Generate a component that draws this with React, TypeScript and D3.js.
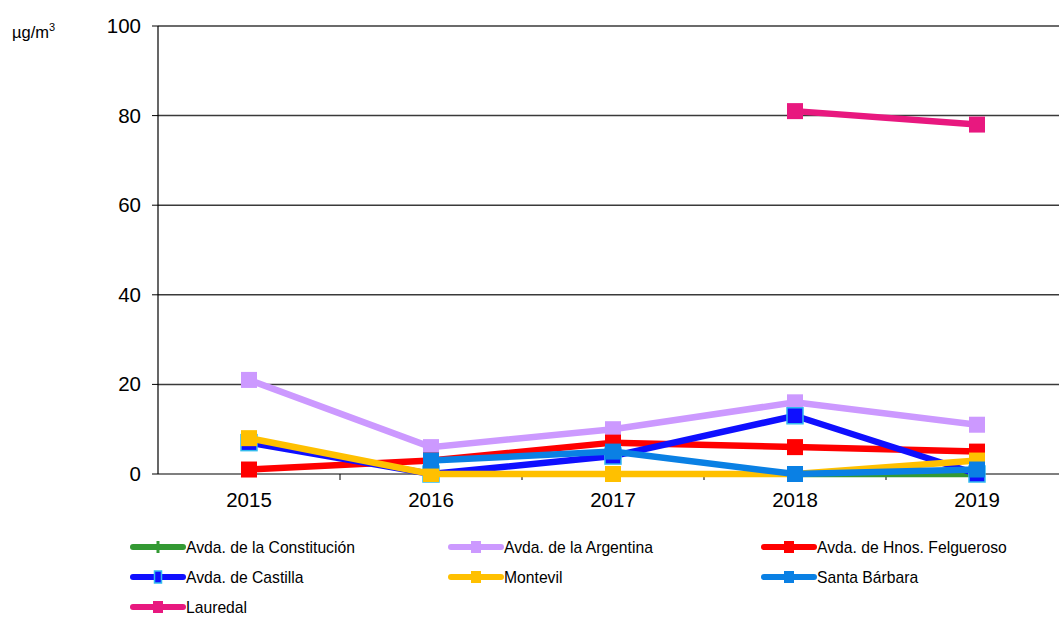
import React, { useRef, useEffect } from "react";
import * as d3 from "d3";

// years on the x axis
const years = ["2015", "2016", "2017", "2018", "2019"];
const yTicks = [0, 20, 40, 60, 80, 100];

// yearly values per station (null = no data)
const constitucion = [null, null, null, 0, 0];
const argentina = [21, 6, 10, 16, 11];
const felgueroso = [1, 3, 7, 6, 5];
const castilla = [7, 0, 4, 13, 0];
const montevil = [8, 0, 0, 0, 3];
const santaBarbara = [null, 3, 5, 0, 1];
const lauredal = [null, null, null, 81, 78];

const seriesNames = [
  "Avda. de la Constitución",
  "Avda. de la Argentina",
  "Avda. de Hnos. Felgueroso",
  "Avda. de Castilla",
  "Montevil",
  "Santa Bárbara",
  "Lauredal",
];
const seriesValues = [constitucion, argentina, felgueroso, castilla, montevil, santaBarbara, lauredal];
const seriesColors = ["#339933", "#cc99ff", "#ff0000", "#0f0fff", "#ffc000", "#0a80e4", "#e8187f"];

const App = () => {
  const svgRef = useRef(null);

  useEffect(() => {
    const width = 1059;
    const height = 617;
    const left = 158;
    const font = "'Liberation Sans', Arial, sans-serif";

    const svg = d3.select(svgRef.current).attr("width", width).attr("height", height);
    svg.selectAll("*").remove();

    const x = d3.scaleBand().domain(years).range([left, left + 182 * years.length]);
    const cx = (d) => x(d) + x.bandwidth() / 2;
    const y = d3.scaleLinear().domain([0, 100]).range([474, 26]);

    // grid lines
    svg
      .selectAll("line.grid")
      .data(yTicks.filter((t) => t > 0))
      .join("line")
      .attr("x1", left)
      .attr("x2", width)
      .attr("y1", (d) => y(d))
      .attr("y2", (d) => y(d))
      .attr("stroke", "#3a3a3a")
      .attr("stroke-width", 1.5);

    // y axis
    svg.append("line").attr("x1", left).attr("x2", left).attr("y1", y(100)).attr("y2", y(0)).attr("stroke", "#000").attr("stroke-width", 1.2);
    svg
      .selectAll("line.ytick")
      .data(yTicks)
      .join("line")
      .attr("x1", left - 6)
      .attr("x2", left)
      .attr("y1", (d) => y(d))
      .attr("y2", (d) => y(d))
      .attr("stroke", "#000");
    svg
      .selectAll("text.ylab")
      .data(yTicks)
      .join("text")
      .attr("x", 141)
      .attr("y", (d) => y(d) + 7)
      .attr("text-anchor", "end")
      .style("font-family", font)
      .style("font-size", "20.5px")
      .text((d) => d);

    // x axis
    svg.append("line").attr("x1", left).attr("x2", width).attr("y1", y(0)).attr("y2", y(0)).attr("stroke", "#000").attr("stroke-width", 1.2);
    svg
      .selectAll("line.xtick")
      .data(years.slice(1))
      .join("line")
      .attr("x1", (d) => x(d))
      .attr("x2", (d) => x(d))
      .attr("y1", y(0))
      .attr("y2", y(0) + 6)
      .attr("stroke", "#000");
    svg
      .selectAll("text.xlab")
      .data(years)
      .join("text")
      .attr("x", cx)
      .attr("y", 507)
      .attr("text-anchor", "middle")
      .style("font-family", font)
      .style("font-size", "20.5px")
      .text((d) => d);

    // unit label
    const unit = svg.append("text").attr("x", 12).attr("y", 38).style("font-family", font).style("font-size", "16.5px");
    unit.append("tspan").text("µg/m");
    unit.append("tspan").attr("dy", -7).style("font-size", "11px").text("3");

    // series
    const line = d3
      .line()
      .defined((d) => d != null)
      .x((d, i) => cx(years[i]))
      .y((d) => y(d));

    seriesValues.forEach((vals, si) => {
      const color = seriesColors[si];
      const g = svg.append("g");
      g.append("path")
        .attr("d", line(vals))
        .attr("fill", "none")
        .attr("stroke", color)
        .attr("stroke-width", 6.5);
      const pts = vals.map((v, i) => ({ v, i })).filter((p) => p.v != null);
      const size = si === 0 ? 4 : 16;
      g.selectAll("rect")
        .data(pts)
        .join("rect")
        .attr("x", (p) => cx(years[p.i]) - size / 2)
        .attr("y", (p) => y(p.v) - 8)
        .attr("width", size)
        .attr("height", 16)
        .attr("fill", color)
        .attr("stroke", si === 3 ? "#33bbee" : "none")
        .attr("stroke-width", 1.5);
    });

    // legend
    const cols = [133, 451, 764];
    const rows = [547, 577, 607];
    seriesNames.forEach((name, i) => {
      const lx = cols[i % 3];
      const ly = rows[Math.floor(i / 3)];
      const color = seriesColors[i];
      const g = svg.append("g");
      g.append("line")
        .attr("x1", lx)
        .attr("x2", lx + 50)
        .attr("y1", ly)
        .attr("y2", ly)
        .attr("stroke", color)
        .attr("stroke-width", 6)
        .attr("stroke-linecap", "round");
      const mw = i === 0 ? 3 : i === 3 ? 7 : 10;
      g.append("rect")
        .attr("x", lx + 25 - mw / 2)
        .attr("y", ly - 6)
        .attr("width", mw)
        .attr("height", 12)
        .attr("fill", color)
        .attr("stroke", i === 3 ? "#33bbee" : "none")
        .attr("stroke-width", 1.5);
      g.append("text")
        .attr("x", lx + 53)
        .attr("y", ly + 5.5)
        .style("font-family", font)
        .style("font-size", "15.7px")
        .text(name);
    });
  }, []);

  return <svg ref={svgRef} style={{ position: "absolute", left: 0, top: 0, display: "block" }}></svg>;
};

export default App;
